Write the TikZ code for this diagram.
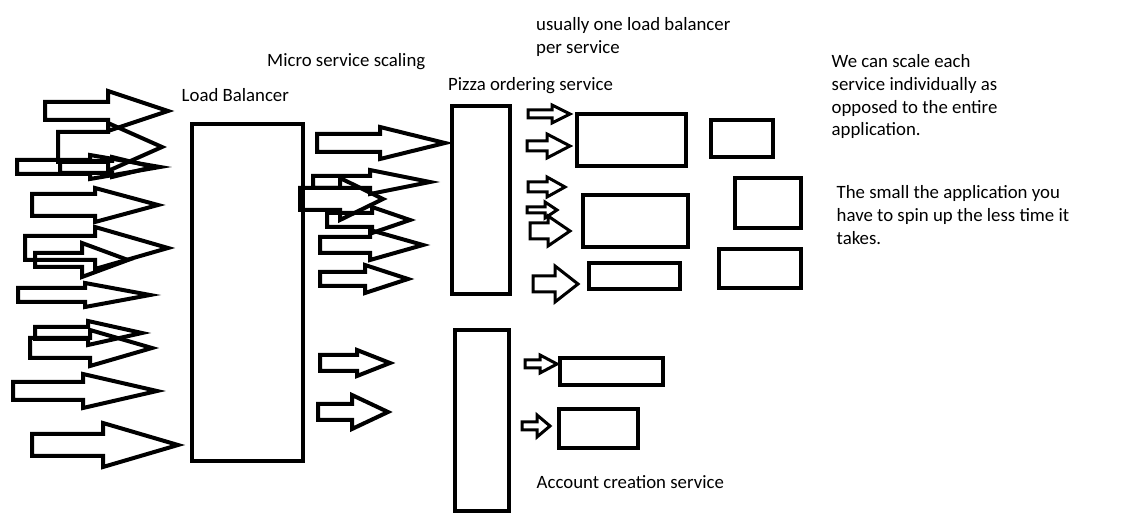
\documentclass[tikz,border=0pt]{standalone}
\usepackage{fontspec}
\setmainfont{Carlito}
\usepackage{tikz}
\usetikzlibrary{positioning}

% hollow block arrow: tail x, tip x, mid y, shaft half, head half, head base x
\newcommand{\blockarrow}[7][]{%
  \draw[arrowline,#1] ({#2},{#4-#5}) -- ({#7},{#4-#5}) -- ({#7},{#4-#6}) -- ({#3},{#4})
    -- ({#7},{#4+#6}) -- ({#7},{#4+#5}) -- ({#2},{#4+#5}) -- cycle;}

\begin{document}
\begin{tikzpicture}[
        x=1pt, y=-1pt,
        every node/.style={font=\fontsize{18.8}{22.7}\selectfont},
        box/.style={draw, line width=4pt, inner sep=0pt, outer sep=0pt},
        note/.style={anchor=base west, inner sep=0pt, align=left},
        arrowline/.style={line width=4pt, line join=miter},
        smallarrow/.style={line width=3pt},
    ]
        \useasboundingbox (0,0) rectangle (1136,526);

        % --- Boxes ---
        \node[box, minimum width=111pt, minimum height=337pt] (lb)      at (247.5,292.5) {};
        \node[box, minimum width=58pt,  minimum height=188pt] (pizza)   at (481,200)     {};
        \node[box, minimum width=54pt,  minimum height=181pt] (account) at (482,420.5)   {};
        \node[box, minimum width=109pt, minimum height=52pt]  (pizzaA)  at (631.5,140)   {};
        \node[box, minimum width=62pt,  minimum height=37pt]  (pizzaB)  at (742,138.5)   {};
        \node[box, minimum width=105pt, minimum height=52pt]  (pizzaC)  at (635.5,221)   {};
        \node[box, minimum width=66pt,  minimum height=50pt]  (pizzaD)  at (768,203)     {};
        \node[box, minimum width=91pt,  minimum height=26pt]  (pizzaE)  at (634.5,276)   {};
        \node[box, minimum width=82pt,  minimum height=39pt]  (pizzaF)  at (760,268.5)   {};
        \node[box, minimum width=103pt, minimum height=27pt]  (accountA) at (611.5,371.5) {};
        \node[box, minimum width=79pt,  minimum height=39pt]  (accountB) at (598.5,428.5) {};

        % --- Labels (base = last line) ---
        \node[note] (lblLB)    at (181.5,101.7) {Load Balancer};
        \node[note] (lblScale) at (267,66.7)    {Micro service scaling};
        \node[note] (lblOne)   at (536,53.3)    {usually one load balancer\\per service};
        \node[note] (lblPizza) at (448,91)      {Pizza ordering service};
        \node[note] (lblAcc)   at (536.5,488.3) {Account creation service};
        \node[note] (lblEach)  at (831.5,136)   {We can scale each\\service individually as\\opposed to the entire\\application.};
        \node[note] (lblSmall) at (836.5,244.3) {The small the application you\\have to spin up the less time it\\takes.};

        % --- Incoming requests ---
        \blockarrow{45}{168}{111}{9}{20}{108}
        \blockarrow{58}{162}{147}{15}{24}{108}
        \blockarrow{17}{160}{167}{7}{12}{90}
        \blockarrow{60}{153}{167}{6}{10}{112}
        \blockarrow{32}{158}{205}{11}{17}{95}
        \blockarrow{25}{168}{248}{12}{21}{95}
        \blockarrow{35}{128}{260}{7}{17}{82}
        \blockarrow{18}{150}{295}{7}{12}{85}
        \blockarrow{35}{142}{333}{6}{12}{88}
        \blockarrow{30}{152}{348}{10}{18}{90}
        \blockarrow{13}{157}{391}{9}{17}{83}
        \blockarrow{32}{178}{445}{11}{22}{103}

        % --- Load balancer to services ---
        \blockarrow{317}{445}{143}{9}{16}{380}
        \blockarrow{313}{430}{182}{6}{12}{370}
        \blockarrow{300}{383}{199}{11}{21}{340}
        \blockarrow{327}{410}{220}{7}{13}{372}
        \blockarrow{320}{423}{245}{8}{15}{370}
        \blockarrow{320}{408}{279}{7}{14}{365}
        \blockarrow{320}{390}{363}{8}{13}{357}
        \blockarrow{318}{388}{412}{8}{17}{352}

        % --- Service to instances ---
        \blockarrow[smallarrow]{528}{570}{114}{4}{9}{552}
        \blockarrow[smallarrow]{527}{570}{146}{5}{12}{547}
        \blockarrow[smallarrow]{528}{565}{187}{5}{10}{547}
        \blockarrow[smallarrow]{527}{557}{210}{3}{8}{545}
        \blockarrow[smallarrow]{530}{570}{231}{8}{15}{548}
        \blockarrow[smallarrow]{533}{578}{284}{8}{18}{555}
        \blockarrow[smallarrow]{525}{557}{364}{4}{9}{540}
        \blockarrow[smallarrow]{522}{550}{426}{4}{11}{537}
    \end{tikzpicture}
\end{document}
